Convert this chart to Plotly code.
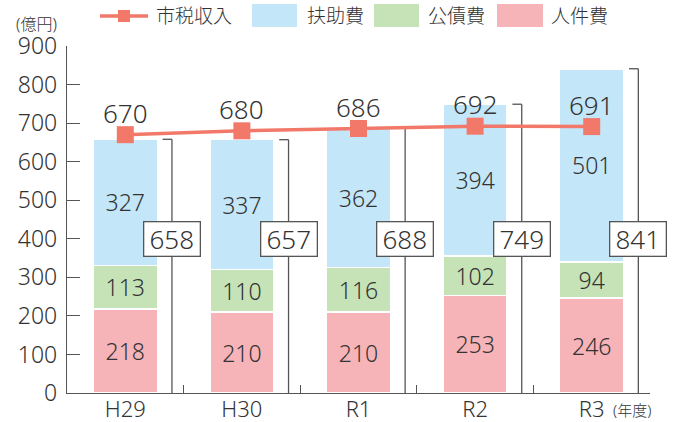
import plotly.graph_objects as go

# ---- data ----
years = ["H29", "H30", "R1", "R2", "R3"]
jinken = [218, 210, 210, 253, 246]      # 人件費
kousai = [113, 110, 116, 102, 94]       # 公債費
fujo = [327, 337, 362, 394, 501]        # 扶助費
totals = [658, 657, 688, 749, 841]
shizei = [670, 680, 686, 692, 691]      # 市税収入
y_ticks = [0, 100, 200, 300, 400, 500, 600, 700, 800, 900]

# ---- style ----
FONT = "Noto Sans, Noto Sans CJK JP, sans-serif"
WT = 300
TXT = "#333333"
C_BLUE = "#C3E6F8"
C_GREEN = "#C6E2B7"
C_PINK = "#F6B4B9"
C_LINE = "#F2796A"
AX = "#555555"

W, H = 678, 422
L, R, T, B = 67, 28, 46, 29
PW, PH = W - L - R, H - T - B


def px(x):
    return (x - L) / PW


def py(y):
    return (H - B - y) / PH


def f(size):
    return dict(family=FONT, size=size, color=TXT, weight=WT)


fig = go.Figure()
for name, vals, col in [("人件費", jinken, C_PINK), ("公債費", kousai, C_GREEN), ("扶助費", fujo, C_BLUE)]:
    fig.add_trace(go.Bar(
        x=years, y=vals, name=name, marker=dict(color=col, line=dict(color="white", width=1.5)),
        width=0.55, text=[str(v) for v in vals], textposition="inside", insidetextanchor="middle",
        textangle=0, textfont=f(23), constraintext="none", showlegend=False, hoverinfo="skip"))

fig.add_trace(go.Scatter(
    x=years, y=shizei, mode="lines+markers", name="市税収入",
    line=dict(color=C_LINE, width=3.5), marker=dict(symbol="square", size=17, color=C_LINE),
    showlegend=False))

shapes = []
annotations = []
for yr, v in zip(years, shizei):
    annotations.append(dict(x=yr, y=v, xref="x", yref="y", text=str(v), showarrow=False,
                            yshift=22, font=f(26)))

for i, tot in enumerate(totals):
    shapes.append(dict(type="line", xref="x", yref="y", x0=i + 0.4, x1=i + 0.4, y0=0, y1=tot,
                       line=dict(color=AX, width=1.3), layer="below"))
    shapes.append(dict(type="line", xref="x", yref="y", x0=i + 0.32, x1=i + 0.4, y0=tot, y1=tot,
                       line=dict(color=AX, width=1.3), layer="below"))
    annotations.append(dict(x=i + 0.4, y=400, xref="x", yref="y", text=str(tot), showarrow=False,
                            font=f(26), bgcolor="white", width=51, height=29,
                            bordercolor=AX, borderwidth=1.3, borderpad=2))

# custom legend
shapes.append(dict(type="line", xref="paper", yref="paper", x0=px(100), x1=px(148), y0=py(16), y1=py(16),
                   line=dict(color=C_LINE, width=3.5)))
shapes.append(dict(type="rect", xref="paper", yref="paper", x0=px(118), x1=px(130), y0=py(10), y1=py(22),
                   line=dict(width=0), fillcolor=C_LINE))
for (x0, x1, col) in [(252, 297, C_BLUE), (374, 419, C_GREEN), (497, 543, C_PINK)]:
    shapes.append(dict(type="rect", xref="paper", yref="paper", x0=px(x0), x1=px(x1), y0=py(4), y1=py(27),
                       line=dict(width=0), fillcolor=col))
for (x, t) in [(154, "市税収入"), (305, "扶助費"), (426, "公債費"), (549, "人件費")]:
    annotations.append(dict(x=px(x), y=py(16), xref="paper", yref="paper", text=t, showarrow=False,
                            xanchor="left", yanchor="middle", font=f(19)))

annotations.append(dict(x=px(14), y=py(24), xref="paper", yref="paper", text="(億円)", showarrow=False,
                        xanchor="left", yanchor="middle", font=f(16)))
annotations.append(dict(x=px(611), y=py(410), xref="paper", yref="paper", text="(年度)", showarrow=False,
                        xanchor="left", yanchor="middle", font=f(15)))

fig.update_layout(
    width=W, height=H, margin=dict(l=L, r=R, t=T, b=B),
    barmode="stack", plot_bgcolor="white", paper_bgcolor="white",
    font=dict(family=FONT, color=TXT), shapes=shapes, annotations=annotations, showlegend=False,
    xaxis=dict(type="category", range=[-0.5, 4.5], showline=True, linecolor=AX, linewidth=1.3,
               ticks="inside", tickson="boundaries", ticklen=8, tickcolor=AX, tickwidth=1.3,
               showgrid=False, tickfont=f(22), ticklabelstandoff=-4, fixedrange=True, automargin=False),
    yaxis=dict(range=[0, 900], tickvals=y_ticks, showline=True, linecolor=AX, linewidth=1.3,
               ticks="inside", ticklen=13, tickcolor=AX, tickwidth=1.3, showgrid=False, zeroline=False,
               tickfont=f(23), ticklabelstandoff=4, fixedrange=True, automargin=False),
)

fig.write_html("out.html", config={"displayModeBar": False},
               post_script="document.body.style.margin='0';document.body.style.overflow='hidden';")
